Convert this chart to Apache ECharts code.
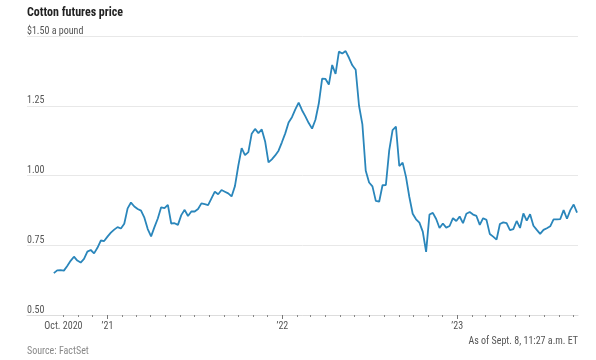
<!DOCTYPE html>
<html><head><meta charset="utf-8">
<script src="https://cdn.jsdelivr.net/npm/echarts@6/dist/echarts.min.js"></script>
<style>html,body{margin:0;padding:0;background:#fff}#c{width:596px;height:360px}</style>
</head><body><div id="c"></div>
<script>
const chartTitle = 'Cotton futures price';
const sourceText = 'Source: FactSet';
const noteText = 'As of Sept. 8, 11:27 a.m. ET';
const unitText = '$1.50 a pound';
// weekly closes starting this Friday
const firstWeek = [2020, 8, 11];
const prices = [
0.650,0.660,0.661,0.659,0.676,0.694,0.709,0.695,0.688,0.701,
0.727,0.733,0.721,0.741,0.767,0.765,0.781,0.795,0.806,0.815,
0.810,0.827,0.882,0.903,0.889,0.880,0.874,0.849,0.808,0.782,
0.815,0.846,0.886,0.883,0.895,0.828,0.829,0.823,0.858,0.877,
0.855,0.871,0.871,0.880,0.900,0.897,0.894,0.918,0.942,0.933,
0.948,0.942,0.936,0.925,0.962,1.035,1.098,1.073,1.084,1.150,
1.167,1.152,1.165,1.122,1.047,1.058,1.072,1.089,1.119,1.151,
1.190,1.209,1.237,1.261,1.234,1.212,1.188,1.168,1.200,1.258,
1.347,1.346,1.326,1.396,1.364,1.444,1.437,1.446,1.422,1.395,
1.379,1.250,1.183,1.017,0.975,0.961,0.909,0.906,0.965,0.966,
1.090,1.163,1.175,1.034,1.046,0.995,0.923,0.863,0.843,0.831,
0.799,0.726,0.860,0.866,0.844,0.812,0.828,0.813,0.819,0.847,
0.837,0.853,0.829,0.863,0.869,0.860,0.855,0.823,0.847,0.841,
0.790,0.781,0.770,0.826,0.832,0.829,0.804,0.808,0.837,0.812,
0.864,0.838,0.861,0.820,0.805,0.791,0.805,0.811,0.818,0.843,
0.843,0.844,0.876,0.845,0.876,0.896,0.867
];
const yTicks = [0.5, 0.75, 1.0, 1.25, 1.5];
const xLabelDates = ['2020-10-01', '2021-01-01', '2022-01-01', '2023-01-01'];
const xLabelTexts = ['Oct. 2020', '\u201921', '\u201922', '\u201923'];
const yearTicks = ['2021-01-01', '2022-01-01', '2023-01-01'];
const monthTicks = [
'2020-10-01','2020-11-01','2020-12-01',
'2021-01-01','2021-02-01','2021-03-01','2021-04-01','2021-05-01','2021-06-01',
'2021-07-01','2021-08-01','2021-09-01','2021-10-01','2021-11-01','2021-12-01',
'2022-01-01','2022-02-01','2022-03-01','2022-04-01','2022-05-01','2022-06-01',
'2022-07-01','2022-08-01','2022-09-01','2022-10-01','2022-11-01','2022-12-01',
'2023-01-01','2023-02-01','2023-03-01','2023-04-01','2023-05-01','2023-06-01',
'2023-07-01','2023-08-01','2023-09-01'
];
const xMin = '2020-07-17';
const xMax = '2023-09-10';

const FONT = "'Liberation Sans Narrow', 'Roboto Condensed', Lato, sans-serif";
function ts(s) { const p = s.split('-').map(Number); return Date.UTC(p[0], p[1] - 1, p[2]); }
const seriesData = prices.map((v, i) => [Date.UTC(firstWeek[0], firstWeek[1], firstWeek[2] + 7 * i), v]);
const labelMap = {};
xLabelDates.forEach((s, i) => { labelMap[ts(s)] = xLabelTexts[i]; });

const chart = echarts.init(document.getElementById('c'), null, {renderer: 'canvas'});
chart.setOption({
  animation: false,
  backgroundColor: '#fff',
  textStyle: {fontFamily: FONT},
  title: [
    {text: chartTitle, left: 22, top: 2, textStyle: {fontFamily: FONT, fontSize: 12, fontWeight: 'bold', color: '#222'}},
    {text: sourceText, left: 22, top: 341, textStyle: {fontFamily: FONT, fontSize: 10, fontWeight: 'normal', color: '#888'}},
    {text: noteText, right: 13, top: 331, textStyle: {fontFamily: FONT, fontSize: 10, fontWeight: 'normal', color: '#555'}}
  ],
  grid: {left: 27, right: 18, top: 36, bottom: 45},
  xAxis: [{
    type: 'value', min: ts(xMin), max: ts(xMax),
    axisLine: {show: true, lineStyle: {color: '#dddddd', width: 1}},
    axisTick: {show: true, customValues: monthTicks.map(ts), length: 2, lineStyle: {color: '#888', width: 1}},
    axisLabel: {show: true, customValues: xLabelDates.map(ts), margin: 6, fontSize: 10, color: '#555', fontFamily: FONT,
      formatter: v => labelMap[v] || ''},
    splitLine: {show: false}
  }, {
    type: 'value', min: ts(xMin), max: ts(xMax), position: 'bottom',
    axisLine: {show: false},
    axisTick: {show: true, customValues: yearTicks.map(ts), length: 4, lineStyle: {color: '#777', width: 1}},
    axisLabel: {show: false},
    splitLine: {show: false}
  }],
  yAxis: {
    type: 'value', min: yTicks[0], max: yTicks[yTicks.length - 1], interval: 0.25,
    axisLine: {show: false}, axisTick: {show: false},
    splitLine: {lineStyle: {color: '#e8e8e8', width: 1}},
    axisLabel: {inside: true, margin: 0, verticalAlign: 'bottom', align: 'left', padding: [0, 0, 0, 0],
      fontSize: 10, color: '#555', fontFamily: FONT,
      formatter: v => Math.abs(v - 1.5) < 1e-9 ? unitText : v.toFixed(2)}
  },
  series: [{
    type: 'line', data: seriesData, showSymbol: false, smooth: false,
    lineStyle: {color: '#2a86bb', width: 1.8}, itemStyle: {color: '#2a86bb'}
  }]
});
</script></body></html>
